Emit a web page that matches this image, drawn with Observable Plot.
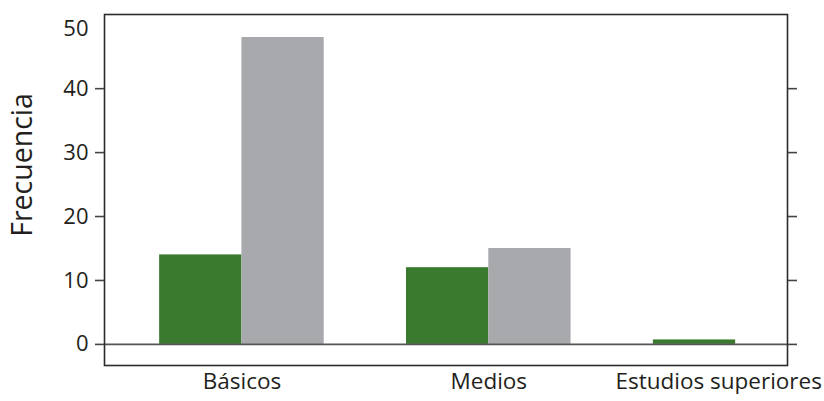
<!DOCTYPE html>
<html>
<head>
<meta charset="utf-8">
<script src="https://cdn.jsdelivr.net/npm/d3@7"></script>
<script src="https://cdn.jsdelivr.net/npm/@observablehq/plot@0.6"></script>
<style>
  html, body { margin: 0; padding: 0; background: #fff; }
  #chart svg { display: block; }
</style>
</head>
<body>
<div id="chart"></div>
<script>
const categories = ["Básicos", "Medios", "Estudios superiores"];
const series = ["Serie 1", "Serie 2"];
const serie1 = [14, 12, 0.7];
const serie2 = [48, 15, 0];
const yTicks = [0, 10, 20, 30, 40];
const yTopLabel = [50];
const colors = ["#3a7a2e", "#a8a9ac"];

// slot index: 3 slots per category (two bars + gap)
const rows = [];
categories.forEach((c, i) => {
  [serie1, serie2].forEach((vals, s) => {
    if (vals[i] > 0) rows.push({cat: c, serie: series[s], value: vals[i], slot: i * 3 + s});
  });
});
const labelRows = categories.map((c, i) => ({cat: c, pos: i * 3 + 1}));

const font = "'Open Sans', sans-serif";
const ink = "#231f20";

const chart = Plot.plot({
  width: 824,
  height: 401,
  marginLeft: 104,
  marginRight: 37,
  marginTop: 14,
  marginBottom: 36,
  style: {fontFamily: font, background: "#fff", color: ink},
  x: {type: "linear", domain: [-0.67, 7.63], axis: null},
  y: {domain: [-3.3, 51.6], axis: null},
  color: {domain: series, range: colors},
  marks: [
    Plot.rectY(rows, {x1: "slot", x2: d => d.slot + 1, y1: 0, y2: "value", fill: "serie"}),
    Plot.ruleY([0], {stroke: "#555", strokeWidth: 1.6}),
    Plot.frame({stroke: "#2b2b2b", strokeWidth: 1.6}),
    Plot.axisY({anchor: "left", ticks: yTicks, tickSize: 9, tickPadding: 7, tickFormat: d => String(d), label: null, fontSize: 22, stroke: "#444", strokeWidth: 1.6, fill: ink}),
    Plot.axisY({anchor: "right", ticks: yTicks, tickSize: 9, tickFormat: () => "", label: null, stroke: "#444", strokeWidth: 1.6}),
    Plot.text(yTopLabel, {y: d => d, frameAnchor: "left", textAnchor: "end", dx: -16, dy: 4, fontSize: 22, fill: ink, text: d => String(d)}),
    Plot.text(["Frecuencia"], {frameAnchor: "left", textAnchor: "middle", rotate: -90, dx: -82, dy: -25, fontSize: 28.5, fill: ink}),
    Plot.text(labelRows.slice(0, 2), {x: "pos", text: "cat", frameAnchor: "bottom", dy: 23, fontSize: 22.5, fill: ink}),
    Plot.text(labelRows.slice(2), {x: "pos", text: "cat", frameAnchor: "bottom", dy: 23, dx: -17, fontSize: 22.5, fill: ink})
  ]
});
document.getElementById("chart").appendChild(chart);
</script>
</body>
</html>
